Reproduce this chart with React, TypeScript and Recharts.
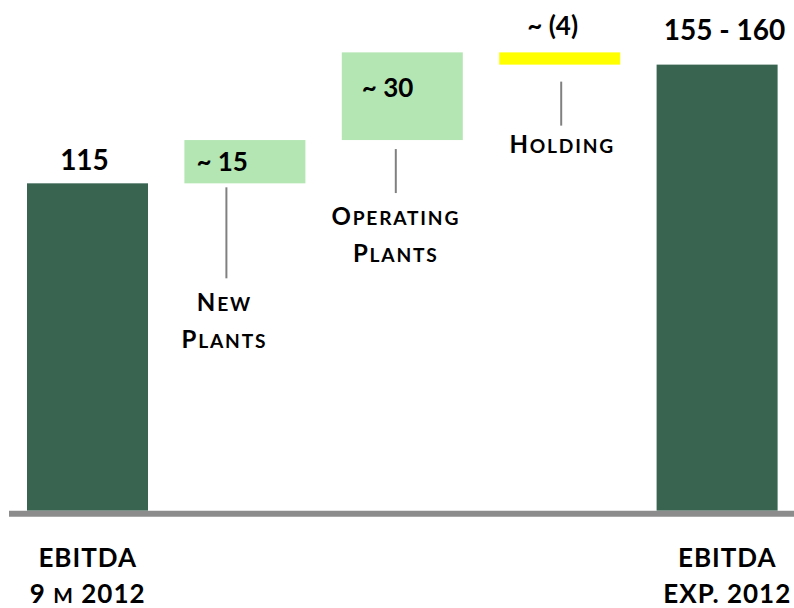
import React from "react";
import { BarChart, Bar, XAxis, YAxis } from "recharts";

// waterfall: EBITDA 9M 2012 -> expected 2012
const categories = ["ebitda9m", "newPlants", "operatingPlants", "holding", "ebitdaExp"];
const steps = [115, 15.2, 30.8, -4.3];
const total = 156.7;
const valueLabels = ["115", "~ 15", "~ 30", "~ (4)", "155 - 160"];
const driverLabels = [[], ["New", "Plants"], ["Operating", "Plants"], ["Holding"], []];
const axisLabels = [["EBITDA", "9 м 2012"], [], [], [], ["EBITDA", "EXP. 2012"]];
const colors = ["#386450", "#b3e6b3", "#b3e6b3", "#ffff00", "#386450"];

const FONT = 'Lato, "Open Sans", sans-serif';

let running = 0;
const data = categories.map((name, i) => {
  if (i === categories.length - 1) return { name, base: 0, size: total };
  const d = steps[i];
  const row = d >= 0 ? { name, base: running, size: d } : { name, base: running + d, size: -d };
  running += d;
  return row;
});

const valueStyle = [
  { anchor: "middle", dx: -3, dy: -13, size: 28 },
  { anchor: "start", dx: 12, dy: 31, size: 26 },
  { anchor: "start", dx: 20, dy: 45, size: 26 },
  { anchor: "middle", dx: -7, dy: -17, size: 26 },
  { anchor: "middle", dx: 7.5, dy: -25, size: 28 },
];

const leaderStyle = [
  null,
  { lineDx: 42, y1: 4, y2: 95, labelDx: 40, labelDy: 128 },
  { lineDx: 54, y1: 9, y2: 53, labelDx: 54, labelDy: 85 },
  { lineDx: 62, y1: 17, y2: 61, labelDx: 63, labelDy: 88 },
  null,
];

// small caps like the slide: capitals full size, lower case as 80% capitals
function SmallCaps({ text, size }: { text: string; size: number }) {
  const parts: { t: string; small: boolean }[] = [];
  for (const ch of text) {
    const small = ch !== ch.toUpperCase();
    const last = parts[parts.length - 1];
    if (last && last.small === small) last.t += ch;
    else parts.push({ t: ch, small });
  }
  return (
    <>
      {parts.map((p, i) => (
        <tspan key={i} fontSize={p.small ? size * 0.8 : size}>
          {p.small ? p.t.toUpperCase() : p.t}
        </tspan>
      ))}
    </>
  );
}

function StepShape(props: any) {
  const { x, y, width, height, index } = props;
  const vs = valueStyle[index];
  const ls = leaderStyle[index];
  const bottom = y + height;
  const tx = vs.anchor === "start" ? x + vs.dx : x + width / 2 + vs.dx;
  return (
    <g>
      <rect x={x} y={y} width={width} height={height} fill={colors[index]} />
      <text
        x={tx}
        y={y + vs.dy}
        textAnchor={vs.anchor}
        fontFamily={FONT}
        fontWeight={700}
        fontSize={vs.size}
        fill="#000"
      >
        {valueLabels[index]}
      </text>
      {ls && (
        <g>
          <line
            x1={x + ls.lineDx}
            x2={x + ls.lineDx}
            y1={bottom + ls.y1}
            y2={bottom + ls.y2}
            stroke="#808080"
            strokeWidth={2}
          />
          {driverLabels[index].map((t, k) => (
            <text
              key={k}
              x={x + ls.labelDx}
              y={bottom + ls.labelDy + k * 37}
              textAnchor="middle"
              fontFamily={FONT}
              fontWeight={700}
              fontSize={24}
              letterSpacing={1.8}
              fill="#000"
            >
              <SmallCaps text={t} size={24} />
            </text>
          ))}
        </g>
      )}
    </g>
  );
}

function AxisTick(props: any) {
  const { x, y, payload } = props;
  const lines = axisLabels[payload.index] || [];
  const dx = payload.index === categories.length - 1 ? 10 : 0;
  return (
    <g>
      {lines.map((t, k) => (
        <text
          key={k}
          x={x + dx}
          y={y + 45 + k * 36}
          textAnchor="middle"
          fontFamily={FONT}
          fontWeight={700}
          fontSize={26}
          letterSpacing={1}
          fill="#000"
        >
          <SmallCaps text={t} size={26} />
        </text>
      ))}
    </g>
  );
}

export default function App() {
  return (
    <div style={{ position: "absolute", left: 0, top: 0, background: "#fff" }}>
      <BarChart
        width={794}
        height={608}
        data={data}
        margin={{ top: 0, right: -2, left: 9, bottom: 0 }}
        barCategoryGap={18}
      >
        <XAxis
          dataKey="name"
          interval={0}
          tickLine={false}
          axisLine={{ stroke: "#8c8c8c", strokeWidth: 6 }}
          tick={<AxisTick />}
          height={94.3}
        />
        <YAxis hide type="number" domain={[-1.054, 179.4]} allowDataOverflow />
        <Bar dataKey="base" stackId="w" fill="none" isAnimationActive={false} />
        <Bar dataKey="size" stackId="w" shape={<StepShape />} isAnimationActive={false} />
      </BarChart>
    </div>
  );
}
